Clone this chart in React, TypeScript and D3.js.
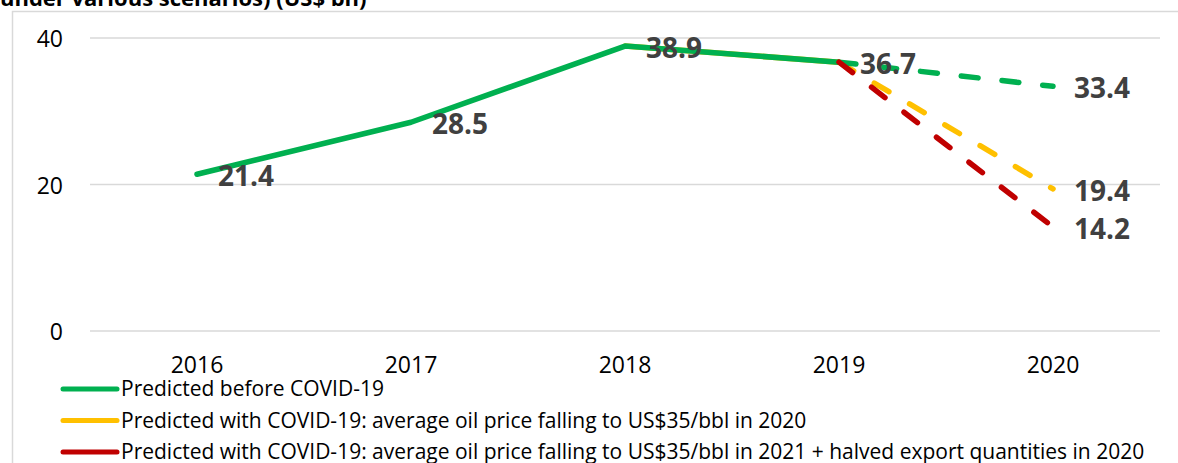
import React from "react";
import * as d3 from "d3";

const years = ["2016", "2017", "2018", "2019", "2020"];
const yTicks = [0, 20, 40];

const greenValues: (number | null)[] = [21.4, 28.5, 38.9, 36.7, 33.4];
const yellowValues: (number | null)[] = [null, null, 38.9, 36.7, 19.4];
const redValues: (number | null)[] = [null, null, null, 36.7, 14.2];

// index from which segments are drawn dashed (forecast part)
const dashFrom = 3;

const seriesNames = [
  "Predicted before COVID-19",
  "Predicted with COVID-19: average oil price falling to US$35/bbl in 2020",
  "Predicted with COVID-19: average oil price falling to US$35/bbl in 2021 + halved export quantities in 2020",
];
const seriesColors = ["#00B050", "#FFC000", "#C00000"];

const labelPoints: { series: number; idx: number }[] = [
  { series: 0, idx: 0 },
  { series: 0, idx: 1 },
  { series: 0, idx: 2 },
  { series: 0, idx: 3 },
  { series: 0, idx: 4 },
  { series: 1, idx: 4 },
  { series: 2, idx: 4 },
];

const titleText = "under various scenarios) (US$ bn)";

export default function App() {
  const W = 1178;
  const H = 463;
  const FONT = "'Open Sans', 'DejaVu Sans', sans-serif";
  const allSeries = [greenValues, yellowValues, redValues];

  const x = d3.scaleBand<string>().domain(years).range([90, 1160]);
  const cx = (i: number) => (x(years[i]) as number) + x.bandwidth() / 2;
  const y = d3.scaleLinear().domain([0, 40]).range([331, 38]);

  const line = d3
    .line<[number, number]>()
    .x((d) => d[0])
    .y((d) => d[1]);

  const segs = (vals: (number | null)[], dashed: boolean) => {
    const pts: [number, number][] = [];
    vals.forEach((v, i) => {
      if (v == null) return;
      if (dashed ? i >= dashFrom : i <= dashFrom) pts.push([cx(i), y(v)]);
    });
    return pts.length > 1 ? line(pts) : null;
  };

  // drawing order: yellow, green, red
  const order = [1, 0, 2];

  return (
    <svg
      width={W}
      height={H}
      style={{ position: "absolute", left: 0, top: 0, background: "#fff" }}
      fontFamily={FONT}
    >
      <rect x={0} y={0} width={W} height={H} fill="#fff" />
      <text x={0} y={6} fontSize={22} fontWeight={700} fill="#000">
        {titleText}
      </text>
      {/* frame */}
      <path d={`M12.5,${H} V11.5 H${W}`} fill="none" stroke="#d9d9d9" strokeWidth={1.5} />

      {/* gridlines + y labels */}
      {yTicks.map((t) => (
        <g key={t}>
          <line x1={90} x2={1160} y1={y(t)} y2={y(t)} stroke="#d9d9d9" strokeWidth={1.5} />
          <text
            x={63}
            y={y(t)}
            textAnchor="end"
            dominantBaseline="central"
            fontSize={23}
            fill="#000"
          >
            {t}
          </text>
        </g>
      ))}

      {/* x labels */}
      {years.map((yr, i) => (
        <text key={yr} x={cx(i)} y={373} textAnchor="middle" fontSize={23} fill="#000">
          {yr}
        </text>
      ))}

      {/* lines */}
      {order.map((s) => {
        const solid = segs(allSeries[s], false);
        const dashed = segs(allSeries[s], true);
        return (
          <g key={s}>
            {solid && (
              <path
                d={solid}
                fill="none"
                stroke={seriesColors[s]}
                strokeWidth={5.5}
                strokeLinecap="round"
                strokeLinejoin="round"
              />
            )}
            {dashed && (
              <path
                d={dashed}
                fill="none"
                stroke={seriesColors[s]}
                strokeWidth={5.5}
                strokeLinecap="round"
                strokeDasharray="17 24"
              />
            )}
          </g>
        );
      })}

      {/* data labels */}
      {labelPoints.map((p, k) => {
        const v = allSeries[p.series][p.idx] as number;
        return (
          <text
            key={k}
            x={cx(p.idx) + 21}
            y={y(v) + 1}
            dominantBaseline="central"
            fontSize={28}
            fontWeight={700}
            fill="#404040"
          >
            {v.toFixed(1)}
          </text>
        );
      })}

      {/* legend */}
      {seriesNames.map((name, i) => {
        const ly = 389 + i * 31.5;
        return (
          <g key={name}>
            <line
              x1={63}
              x2={117}
              y1={ly}
              y2={ly}
              stroke={seriesColors[i]}
              strokeWidth={5}
              strokeLinecap="round"
            />
            <text x={121} y={ly - 1} dominantBaseline="central" fontSize={21} fill="#000">
              {name}
            </text>
          </g>
        );
      })}
    </svg>
  );
}
